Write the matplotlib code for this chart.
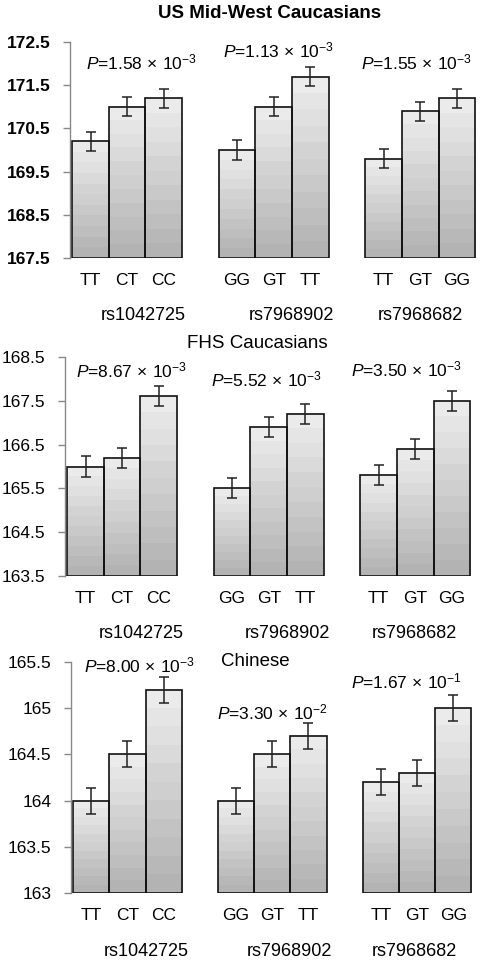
import numpy as np
import matplotlib
matplotlib.use("Agg")
import matplotlib.pyplot as plt
from matplotlib.ticker import FormatStrFormatter

plt.rcParams['font.family'] = ['Liberation Sans', 'DejaVu Sans']
plt.rcParams['mathtext.fontset'] = 'custom'
plt.rcParams['mathtext.rm'] = 'Liberation Sans'
plt.rcParams['mathtext.it'] = 'Liberation Sans:italic'

W, H = 486, 965

snps = ["rs1042725", "rs7968902", "rs7968682"]
genotypes = [["TT", "CT", "CC"], ["GG", "GT", "TT"], ["TT", "GT", "GG"]]

titles = ["US Mid-West Caucasians", "FHS Caucasians", "Chinese"]

# mean heights per panel, per SNP (3 genotypes each)
us_means = [[170.2, 171.0, 171.2], [170.0, 171.0, 171.7], [169.8, 170.9, 171.2]]
us_err = 0.22
fhs_means = [[166.0, 166.2, 167.6], [165.5, 166.9, 167.2], [165.8, 166.4, 167.5]]
fhs_err = 0.23
cn_means = [[164.0, 164.5, 165.2], [164.0, 164.5, 164.7], [164.2, 164.3, 165.0]]
cn_err = 0.14

us_p = [("1.58", "-3"), ("1.13", "-3"), ("1.55", "-3")]
fhs_p = [("8.67", "-3"), ("5.52", "-3"), ("3.50", "-3")]
cn_p = [("8.00", "-3"), ("3.30", "-2"), ("1.67", "-1")]

panels = [
    dict(means=us_means, err=us_err, pvals=us_p, ylim=(167.5, 172.5), step=1.0, fmt='%.1f', bold=True,
         box=(70, 42, 476, 258), title_xy=(270, 14), title_bold=True,
         p_xy=[(142, 62), (279, 50), (417, 62)], rs_xy=[(143, 315), (291, 315), (420, 315)]),
    dict(means=fhs_means, err=fhs_err, pvals=fhs_p, ylim=(163.5, 168.5), step=1.0, fmt='%.1f', bold=False,
         box=(65, 357, 471, 576), title_xy=(257, 344), title_bold=False,
         p_xy=[(132, 370), (267, 379), (407, 369)], rs_xy=[(141, 633), (287, 633), (414, 633)]),
    dict(means=cn_means, err=cn_err, pvals=cn_p, ylim=(163.0, 165.5), step=0.5, fmt='%g', bold=False,
         box=(71, 662, 472, 893), title_xy=(255, 662), title_bold=False,
         p_xy=[(140, 665), (273, 712), (407, 681)], rs_xy=[(146, 951), (289, 951), (414, 951)]),
]

fig = plt.figure(figsize=(W / 100, H / 100), dpi=100)

def ftext(x, y, s, **kw):
    fig.text(x / W, 1 - y / H, s, ha='center', va='center', **kw)

grad = np.linspace(0.92, 0.70, 11).reshape(-1, 1)

for k, p in enumerate(panels):
    x0, y0, x1, y1 = p['box']
    ax = fig.add_axes([x0 / W, 1 - y1 / H, (x1 - x0) / W, (y1 - y0) / H])
    lo, hi = p['ylim']
    xs, labels = [], []
    for g in range(3):
        for i in range(3):
            xc = 4 * g + i + 0.5
            val = p['means'][g][i]
            ax.imshow(grad, extent=[xc - 0.5, xc + 0.5, lo, val], aspect='auto',
                      cmap='gray', vmin=0, vmax=1, zorder=1, interpolation='nearest')
            ax.bar(xc, val - lo, bottom=lo, width=1.0, facecolor='none',
                   edgecolor='#111111', linewidth=1.2, zorder=2)
            ax.errorbar(xc, val, yerr=p['err'], fmt='none', ecolor='#222222',
                        elinewidth=1.1, capsize=3.5, capthick=1.1, zorder=3)
            xs.append(xc)
            labels.append(genotypes[g][i])
    ax.set_xlim(-0.06, 11.02)
    ax.set_ylim(lo, hi)
    ax.set_yticks(np.arange(lo, hi + 1e-6, p['step']))
    ax.yaxis.set_major_formatter(FormatStrFormatter(p['fmt']))
    ax.set_xticks(xs)
    ax.set_xticklabels(labels, fontsize=12.5)
    ax.tick_params(axis='x', length=0, pad=11)
    ax.tick_params(axis='y', length=5, width=1, color='#888888', pad=9, labelsize=12.5)
    if p['bold']:
        for t in ax.get_yticklabels():
            t.set_fontweight('bold')
    for s in ['top', 'right', 'bottom']:
        ax.spines[s].set_visible(False)
    ax.spines['left'].set_color('#888888')
    ax.spines['left'].set_linewidth(1)
    ax.patch.set_alpha(0)

    ftext(*p['title_xy'], titles[k], fontsize=13.5,
          fontweight='bold' if p['title_bold'] else 'normal')
    for (px, py), (mant, ex) in zip(p['p_xy'], p['pvals']):
        s = r"$P$=" + mant + r"$\,\times\,$10$^{\mathrm{" + ex + "}}$"
        ftext(px, py, s, fontsize=12.5)
    for (rx, ry), s in zip(p['rs_xy'], snps):
        ftext(rx, ry, s, fontsize=13)

fig.savefig("out.png", dpi=100)
